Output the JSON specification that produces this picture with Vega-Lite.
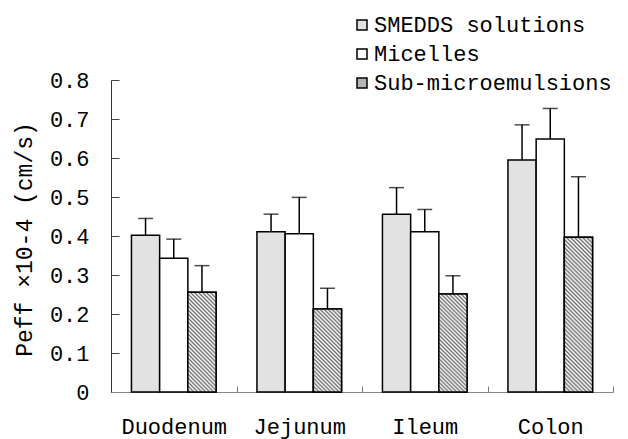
{
  "$schema": "https://vega.github.io/schema/vega-lite/v6.json",
  "width": 502,
  "height": 312,
  "autosize": "none",
  "padding": {"left": 111, "top": 80, "right": 15, "bottom": 47},
  "background": "white",
  "config": {
    "font": "Liberation Mono",
    "view": {"stroke": null},
    "axis": {"grid": false, "labelColor": "black", "titleColor": "black", "labelFont": "Liberation Mono", "titleFont": "Liberation Mono"},
    "axisY": {
      "title": "Peff ×10-4 (cm/s)",
      "titleFontSize": 23,
      "titleFontWeight": "normal",
      "titleX": -80,
      "titleY": 159,
      "titleAngle": -90,
      "titleBaseline": "alphabetic",
      "labelOverlap": false,
      "labelExpr": "datum.value == 0 ? '0' : format(datum.value, '.1f')",
      "labelFontSize": 22,
      "labelPadding": 22,
      "ticks": false,
      "grid": true,
      "gridDash": [8, 1000],
      "gridColor": "#444444",
      "gridWidth": 1,
      "gridOpacity": 1,
      "domainColor": "#333333",
      "domainWidth": 1
    }
  },
  "data": {
    "values": [
      {"region": "Duodenum", "type": "SMEDDS solutions", "value": 0.402, "upper": 0.445},
      {"region": "Duodenum", "type": "Micelles", "value": 0.343, "upper": 0.392},
      {"region": "Duodenum", "type": "Sub-microemulsions", "value": 0.256, "upper": 0.324},
      {"region": "Jejunum", "type": "SMEDDS solutions", "value": 0.411, "upper": 0.456},
      {"region": "Jejunum", "type": "Micelles", "value": 0.406, "upper": 0.499},
      {"region": "Jejunum", "type": "Sub-microemulsions", "value": 0.213, "upper": 0.266},
      {"region": "Ileum", "type": "SMEDDS solutions", "value": 0.456, "upper": 0.524},
      {"region": "Ileum", "type": "Micelles", "value": 0.411, "upper": 0.468},
      {"region": "Ileum", "type": "Sub-microemulsions", "value": 0.251, "upper": 0.298},
      {"region": "Colon", "type": "SMEDDS solutions", "value": 0.595, "upper": 0.685},
      {"region": "Colon", "type": "Micelles", "value": 0.649, "upper": 0.727},
      {"region": "Colon", "type": "Sub-microemulsions", "value": 0.397, "upper": 0.552}
    ]
  },
  "encoding": {
    "x": {
      "field": "region",
      "type": "nominal",
      "sort": ["Duodenum", "Jejunum", "Ileum", "Colon"],
      "scale": {"paddingInner": 0, "paddingOuter": 0},
      "axis": {
        "title": null,
        "labelAngle": 0,
        "labelFontSize": 22,
        "labelPadding": 30,
        "tickBand": "extent",
        "ticks": true,
        "tickSize": -6,
        "tickWidth": 1,
        "tickColor": "#777777",
        "domainColor": "#888888",
        "domainWidth": 1
      }
    },
    "xOffset": {
      "field": "type",
      "type": "nominal",
      "sort": ["SMEDDS solutions", "Micelles", "Sub-microemulsions"],
      "scale": {"paddingInner": 0, "paddingOuter": 0.725}
    }
  },
  "layer": [
    {
      "mark": {"type": "bar", "stroke": "black", "strokeWidth": 1.5},
      "encoding": {
        "y": {
          "field": "value",
          "type": "quantitative",
          "title": "Peff ×10-4 (cm/s)",
          "scale": {"domain": [0, 0.8], "nice": false},
          "axis": {"values": [0, 0.1, 0.2, 0.3, 0.4, 0.5, 0.6, 0.7, 0.8], "labelOverlap": false}
        },
        "fill": {
          "field": "type",
          "type": "nominal",
          "sort": ["SMEDDS solutions", "Micelles", "Sub-microemulsions"],
          "scale": {"domain": ["SMEDDS solutions", "Micelles", "Sub-microemulsions"], "range": ["#e2e2e2", "#ffffff", "#b4b4b4"]},
          "legend": {
            "title": null,
            "orient": "none",
            "legendX": 240,
            "legendY": -66,
            "symbolType": "square",
            "symbolSize": 100,
            "symbolStrokeColor": "black",
            "symbolStrokeWidth": 1.5,
            "symbolOpacity": 1,
            "labelFontSize": 22,
            "labelFont": "Liberation Mono",
            "labelColor": "black",
            "labelOffset": 1,
            "labelLimit": 400,
            "rowPadding": 7
          }
        }
      }
    },
    {
      "transform": [{"filter": "datum.type === 'Sub-microemulsions'"}],
      "mark": {"type": "bar", "stroke": "black", "strokeWidth": 1.5},
      "encoding": {
        "y": {"field": "value", "type": "quantitative", "title": "Peff ×10-4 (cm/s)", "axis": {"values": [0, 0.1, 0.2, 0.3, 0.4, 0.5, 0.6, 0.7, 0.8], "labelOverlap": false}},
        "fill": {
          "condition": [
            {"test": "datum.region === 'Jejunum'", "value": {"gradient": "linear", "x1": 0, "y1": 1, "x2": 0.4077, "y2": -0.2011, "stops": [
              {"offset": 0, "color": "#ffffff"}, {"offset": 0.01786, "color": "#707070"}, {"offset": 0.03571, "color": "#ffffff"}, {"offset": 0.05357, "color": "#707070"},
              {"offset": 0.07143, "color": "#ffffff"}, {"offset": 0.08929, "color": "#707070"}, {"offset": 0.10714, "color": "#ffffff"}, {"offset": 0.125, "color": "#707070"},
              {"offset": 0.14286, "color": "#ffffff"}, {"offset": 0.16071, "color": "#707070"}, {"offset": 0.17857, "color": "#ffffff"}, {"offset": 0.19643, "color": "#707070"},
              {"offset": 0.21429, "color": "#ffffff"}, {"offset": 0.23214, "color": "#707070"}, {"offset": 0.25, "color": "#ffffff"}, {"offset": 0.26786, "color": "#707070"},
              {"offset": 0.28571, "color": "#ffffff"}, {"offset": 0.30357, "color": "#707070"}, {"offset": 0.32143, "color": "#ffffff"}, {"offset": 0.33929, "color": "#707070"},
              {"offset": 0.35714, "color": "#ffffff"}, {"offset": 0.375, "color": "#707070"}, {"offset": 0.39286, "color": "#ffffff"}, {"offset": 0.41071, "color": "#707070"},
              {"offset": 0.42857, "color": "#ffffff"}, {"offset": 0.44643, "color": "#707070"}, {"offset": 0.46429, "color": "#ffffff"}, {"offset": 0.48214, "color": "#707070"},
              {"offset": 0.5, "color": "#ffffff"}, {"offset": 0.51786, "color": "#707070"}, {"offset": 0.53571, "color": "#ffffff"}, {"offset": 0.55357, "color": "#707070"},
              {"offset": 0.57143, "color": "#ffffff"}, {"offset": 0.58929, "color": "#707070"}, {"offset": 0.60714, "color": "#ffffff"}, {"offset": 0.625, "color": "#707070"},
              {"offset": 0.64286, "color": "#ffffff"}, {"offset": 0.66071, "color": "#707070"}, {"offset": 0.67857, "color": "#ffffff"}, {"offset": 0.69643, "color": "#707070"},
              {"offset": 0.71429, "color": "#ffffff"}, {"offset": 0.73214, "color": "#707070"}, {"offset": 0.75, "color": "#ffffff"}, {"offset": 0.76786, "color": "#707070"},
              {"offset": 0.78571, "color": "#ffffff"}, {"offset": 0.80357, "color": "#707070"}, {"offset": 0.82143, "color": "#ffffff"}, {"offset": 0.83929, "color": "#707070"},
              {"offset": 0.85714, "color": "#ffffff"}, {"offset": 0.875, "color": "#707070"}, {"offset": 0.89286, "color": "#ffffff"}, {"offset": 0.91071, "color": "#707070"},
              {"offset": 0.92857, "color": "#ffffff"}, {"offset": 0.94643, "color": "#707070"}, {"offset": 0.96429, "color": "#ffffff"}, {"offset": 0.98214, "color": "#707070"},
              {"offset": 1, "color": "#ffffff"}
            ]}},
            {"test": "datum.region === 'Colon'", "value": {"gradient": "linear", "x1": 0, "y1": 1, "x2": 0.2084, "y2": -0.1441, "stops": [
              {"offset": 0, "color": "#ffffff"}, {"offset": 0.01111, "color": "#707070"}, {"offset": 0.02222, "color": "#ffffff"}, {"offset": 0.03333, "color": "#707070"},
              {"offset": 0.04444, "color": "#ffffff"}, {"offset": 0.05556, "color": "#707070"}, {"offset": 0.06667, "color": "#ffffff"}, {"offset": 0.07778, "color": "#707070"},
              {"offset": 0.08889, "color": "#ffffff"}, {"offset": 0.1, "color": "#707070"}, {"offset": 0.11111, "color": "#ffffff"}, {"offset": 0.12222, "color": "#707070"},
              {"offset": 0.13333, "color": "#ffffff"}, {"offset": 0.14444, "color": "#707070"}, {"offset": 0.15556, "color": "#ffffff"}, {"offset": 0.16667, "color": "#707070"},
              {"offset": 0.17778, "color": "#ffffff"}, {"offset": 0.18889, "color": "#707070"}, {"offset": 0.2, "color": "#ffffff"}, {"offset": 0.21111, "color": "#707070"},
              {"offset": 0.22222, "color": "#ffffff"}, {"offset": 0.23333, "color": "#707070"}, {"offset": 0.24444, "color": "#ffffff"}, {"offset": 0.25556, "color": "#707070"},
              {"offset": 0.26667, "color": "#ffffff"}, {"offset": 0.27778, "color": "#707070"}, {"offset": 0.28889, "color": "#ffffff"}, {"offset": 0.3, "color": "#707070"},
              {"offset": 0.31111, "color": "#ffffff"}, {"offset": 0.32222, "color": "#707070"}, {"offset": 0.33333, "color": "#ffffff"}, {"offset": 0.34444, "color": "#707070"},
              {"offset": 0.35556, "color": "#ffffff"}, {"offset": 0.36667, "color": "#707070"}, {"offset": 0.37778, "color": "#ffffff"}, {"offset": 0.38889, "color": "#707070"},
              {"offset": 0.4, "color": "#ffffff"}, {"offset": 0.41111, "color": "#707070"}, {"offset": 0.42222, "color": "#ffffff"}, {"offset": 0.43333, "color": "#707070"},
              {"offset": 0.44444, "color": "#ffffff"}, {"offset": 0.45556, "color": "#707070"}, {"offset": 0.46667, "color": "#ffffff"}, {"offset": 0.47778, "color": "#707070"},
              {"offset": 0.48889, "color": "#ffffff"}, {"offset": 0.5, "color": "#707070"}, {"offset": 0.51111, "color": "#ffffff"}, {"offset": 0.52222, "color": "#707070"},
              {"offset": 0.53333, "color": "#ffffff"}, {"offset": 0.54444, "color": "#707070"}, {"offset": 0.55556, "color": "#ffffff"}, {"offset": 0.56667, "color": "#707070"},
              {"offset": 0.57778, "color": "#ffffff"}, {"offset": 0.58889, "color": "#707070"}, {"offset": 0.6, "color": "#ffffff"}, {"offset": 0.61111, "color": "#707070"},
              {"offset": 0.62222, "color": "#ffffff"}, {"offset": 0.63333, "color": "#707070"}, {"offset": 0.64444, "color": "#ffffff"}, {"offset": 0.65556, "color": "#707070"},
              {"offset": 0.66667, "color": "#ffffff"}, {"offset": 0.67778, "color": "#707070"}, {"offset": 0.68889, "color": "#ffffff"}, {"offset": 0.7, "color": "#707070"},
              {"offset": 0.71111, "color": "#ffffff"}, {"offset": 0.72222, "color": "#707070"}, {"offset": 0.73333, "color": "#ffffff"}, {"offset": 0.74444, "color": "#707070"},
              {"offset": 0.75556, "color": "#ffffff"}, {"offset": 0.76667, "color": "#707070"}, {"offset": 0.77778, "color": "#ffffff"}, {"offset": 0.78889, "color": "#707070"},
              {"offset": 0.8, "color": "#ffffff"}, {"offset": 0.81111, "color": "#707070"}, {"offset": 0.82222, "color": "#ffffff"}, {"offset": 0.83333, "color": "#707070"},
              {"offset": 0.84444, "color": "#ffffff"}, {"offset": 0.85556, "color": "#707070"}, {"offset": 0.86667, "color": "#ffffff"}, {"offset": 0.87778, "color": "#707070"},
              {"offset": 0.88889, "color": "#ffffff"}, {"offset": 0.9, "color": "#707070"}, {"offset": 0.91111, "color": "#ffffff"}, {"offset": 0.92222, "color": "#707070"},
              {"offset": 0.93333, "color": "#ffffff"}, {"offset": 0.94444, "color": "#707070"}, {"offset": 0.95556, "color": "#ffffff"}, {"offset": 0.96667, "color": "#707070"},
              {"offset": 0.97778, "color": "#ffffff"}, {"offset": 0.98889, "color": "#707070"}, {"offset": 1, "color": "#ffffff"}
            ]}}
          ],
          "value": {"gradient": "linear", "x1": 0, "y1": 1, "x2": 0.3386, "y2": -0.1885, "stops": [
            {"offset": 0, "color": "#ffffff"}, {"offset": 0.015625, "color": "#707070"}, {"offset": 0.03125, "color": "#ffffff"}, {"offset": 0.046875, "color": "#707070"},
            {"offset": 0.0625, "color": "#ffffff"}, {"offset": 0.078125, "color": "#707070"}, {"offset": 0.09375, "color": "#ffffff"}, {"offset": 0.109375, "color": "#707070"},
            {"offset": 0.125, "color": "#ffffff"}, {"offset": 0.140625, "color": "#707070"}, {"offset": 0.15625, "color": "#ffffff"}, {"offset": 0.171875, "color": "#707070"},
            {"offset": 0.1875, "color": "#ffffff"}, {"offset": 0.203125, "color": "#707070"}, {"offset": 0.21875, "color": "#ffffff"}, {"offset": 0.234375, "color": "#707070"},
            {"offset": 0.25, "color": "#ffffff"}, {"offset": 0.265625, "color": "#707070"}, {"offset": 0.28125, "color": "#ffffff"}, {"offset": 0.296875, "color": "#707070"},
            {"offset": 0.3125, "color": "#ffffff"}, {"offset": 0.328125, "color": "#707070"}, {"offset": 0.34375, "color": "#ffffff"}, {"offset": 0.359375, "color": "#707070"},
            {"offset": 0.375, "color": "#ffffff"}, {"offset": 0.390625, "color": "#707070"}, {"offset": 0.40625, "color": "#ffffff"}, {"offset": 0.421875, "color": "#707070"},
            {"offset": 0.4375, "color": "#ffffff"}, {"offset": 0.453125, "color": "#707070"}, {"offset": 0.46875, "color": "#ffffff"}, {"offset": 0.484375, "color": "#707070"},
            {"offset": 0.5, "color": "#ffffff"}, {"offset": 0.515625, "color": "#707070"}, {"offset": 0.53125, "color": "#ffffff"}, {"offset": 0.546875, "color": "#707070"},
            {"offset": 0.5625, "color": "#ffffff"}, {"offset": 0.578125, "color": "#707070"}, {"offset": 0.59375, "color": "#ffffff"}, {"offset": 0.609375, "color": "#707070"},
            {"offset": 0.625, "color": "#ffffff"}, {"offset": 0.640625, "color": "#707070"}, {"offset": 0.65625, "color": "#ffffff"}, {"offset": 0.671875, "color": "#707070"},
            {"offset": 0.6875, "color": "#ffffff"}, {"offset": 0.703125, "color": "#707070"}, {"offset": 0.71875, "color": "#ffffff"}, {"offset": 0.734375, "color": "#707070"},
            {"offset": 0.75, "color": "#ffffff"}, {"offset": 0.765625, "color": "#707070"}, {"offset": 0.78125, "color": "#ffffff"}, {"offset": 0.796875, "color": "#707070"},
            {"offset": 0.8125, "color": "#ffffff"}, {"offset": 0.828125, "color": "#707070"}, {"offset": 0.84375, "color": "#ffffff"}, {"offset": 0.859375, "color": "#707070"},
            {"offset": 0.875, "color": "#ffffff"}, {"offset": 0.890625, "color": "#707070"}, {"offset": 0.90625, "color": "#ffffff"}, {"offset": 0.921875, "color": "#707070"},
            {"offset": 0.9375, "color": "#ffffff"}, {"offset": 0.953125, "color": "#707070"}, {"offset": 0.96875, "color": "#ffffff"}, {"offset": 0.984375, "color": "#707070"},
            {"offset": 1, "color": "#ffffff"}
          ]}
        }
      }
    },
    {
      "mark": {"type": "rule", "color": "black", "strokeWidth": 1.5},
      "encoding": {
        "y": {"field": "value", "type": "quantitative", "title": "Peff ×10-4 (cm/s)", "axis": {"values": [0, 0.1, 0.2, 0.3, 0.4, 0.5, 0.6, 0.7, 0.8], "labelOverlap": false}},
        "y2": {"field": "upper"}
      }
    },
    {
      "mark": {"type": "tick", "orient": "horizontal", "color": "black", "size": 15, "thickness": 1.5},
      "encoding": {
        "y": {"field": "upper", "type": "quantitative", "title": "Peff ×10-4 (cm/s)", "axis": {"values": [0, 0.1, 0.2, 0.3, 0.4, 0.5, 0.6, 0.7, 0.8], "labelOverlap": false}}
      }
    }
  ]
}
